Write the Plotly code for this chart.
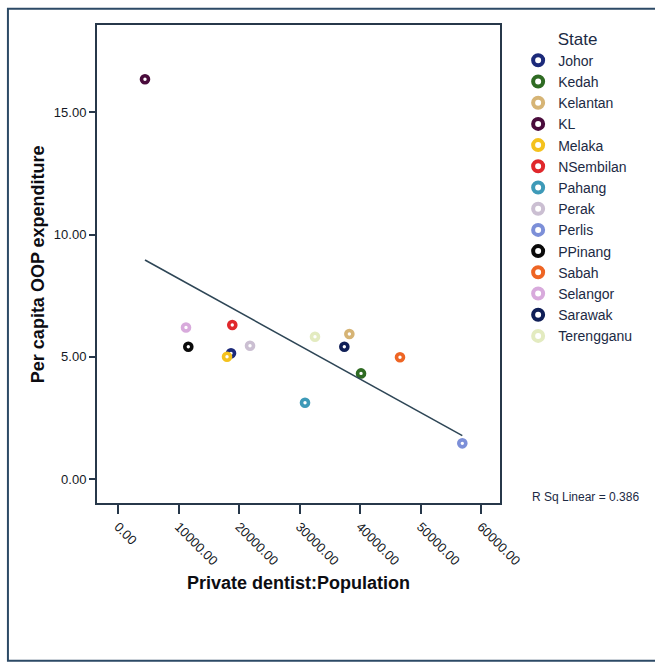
import numpy as np
import plotly.graph_objects as go

# Per-state values: private dentist to population ratio vs per capita OOP expenditure
states = ["Johor", "Kedah", "Kelantan", "KL", "Melaka", "NSembilan", "Pahang",
          "Perak", "Perlis", "PPinang", "Sabah", "Selangor", "Sarawak", "Terengganu"]
dentist_ratio = [18680, 40170, 38240, 4460, 18020, 18890, 30910,
                 21820, 56910, 11620, 46610, 11240, 37410, 32560]
oop_expenditure = [5.14, 4.32, 5.93, 16.35, 5.00, 6.30, 3.12,
                   5.45, 1.46, 5.41, 4.98, 6.20, 5.41, 5.82]
state_colors = ["#1c2a7a", "#2f6b23", "#d6b475", "#4a0c3c", "#f4c21e", "#e0282c", "#3e9ab8",
                "#cbbfd2", "#7c8fd8", "#0a0a0a", "#ee6524", "#d8aadc", "#101f57", "#e3ebc0"]

x_ticks = [0, 10000, 20000, 30000, 40000, 50000, 60000]
x_tick_text = ["0.00", "10000.00", "20000.00", "30000.00", "40000.00", "50000.00", "60000.00"]
y_ticks = [0, 5, 10, 15]
y_tick_text = ["0.00", "5.00", "10.00", "15.00"]
r_sq_label = "R Sq Linear = 0.386"

FONT = "Liberation Sans, Arial, sans-serif"
AXIS_COLOR = "#27384a"
TEXT_COLOR = "#141824"

fig = go.Figure()

for name, xv, yv, col in zip(states, dentist_ratio, oop_expenditure, state_colors):
    # data point
    fig.add_trace(go.Scatter(
        x=[xv], y=[yv], mode="markers", name=name, legendgroup=name, showlegend=False,
        marker=dict(symbol="circle", size=7, color="white",
                    line=dict(color=col, width=3.6)),
    ))
    # legend key with a larger ring
    fig.add_trace(go.Scatter(
        x=[None], y=[None], mode="markers", name=name, legendgroup=name,
        marker=dict(symbol="circle", size=10, color="white",
                    line=dict(color=col, width=4)),
    ))

# Least-squares fit line across the observed range
xs = np.array(dentist_ratio, dtype=float)
ys = np.array(oop_expenditure, dtype=float)
slope, intercept = np.polyfit(xs, ys, 1)
fit_x = np.array([xs.min(), xs.max()])
fig.add_trace(go.Scatter(
    x=fit_x, y=slope * fit_x + intercept, mode="lines", showlegend=False,
    line=dict(color="#2e4656", width=1.6), hoverinfo="skip",
))

fig.update_layout(
    width=655, height=662,
    margin=dict(l=97, r=155, t=25, b=159),
    paper_bgcolor="white", plot_bgcolor="white",
    font=dict(family=FONT, color=TEXT_COLOR, size=13),
    showlegend=True,
    legend=dict(
        title=dict(text="State", font=dict(size=17, color="#1c2a44"), side="top center"),
        x=1.045, xanchor="left", y=1.005, yanchor="top",
        font=dict(size=14, color="#1c2a44"),
        itemsizing="trace", tracegroupgap=0,
        bgcolor="rgba(0,0,0,0)",
    ),
    xaxis=dict(
        range=[-3471, 63140], showgrid=False, zeroline=False,
        showline=True, mirror=True, linecolor=AXIS_COLOR, linewidth=2,
        ticks="outside", ticklen=9, tickwidth=2, tickcolor=AXIS_COLOR,
        tickvals=x_ticks, ticktext=x_tick_text, tickangle=45,
        tickfont=dict(size=13, color=TEXT_COLOR),
    ),
    yaxis=dict(
        range=[-0.98, 18.57], showgrid=False, zeroline=False,
        showline=True, mirror=True, linecolor=AXIS_COLOR, linewidth=2,
        ticks="outside", ticklen=6, tickwidth=2, tickcolor=AXIS_COLOR,
        tickvals=y_ticks, ticktext=y_tick_text,
        tickfont=dict(size=13, color=TEXT_COLOR),
    ),
    annotations=[
        dict(text="<b>Private dentist:Population</b>", xref="paper", yref="paper",
             x=0.5, y=-0.167, xanchor="center", yanchor="middle", showarrow=False,
             font=dict(size=18, color="#0d0d12")),
        dict(text="<b>Per capita OOP expenditure</b>", xref="paper", yref="paper",
             x=-0.146, y=0.5, xanchor="center", yanchor="middle", showarrow=False,
             textangle=-90, font=dict(size=18, color="#0d0d12")),
        dict(text=r_sq_label, xref="paper", yref="paper",
             x=1.074, y=0.013, xanchor="left", yanchor="middle", showarrow=False,
             font=dict(size=12, color="#1c2a44")),
    ],
    shapes=[
        # outer chart frame
        dict(type="rect", xref="paper", yref="paper",
             x0=-0.221, x1=1.6, y0=-0.33, y1=1.034,
             line=dict(color="#2c4a66", width=2), fillcolor="rgba(0,0,0,0)",
             layer="above"),
    ],
)

fig.write_html("out.html")
